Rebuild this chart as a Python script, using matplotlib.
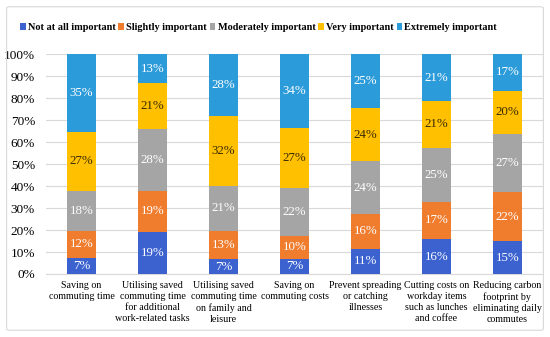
import matplotlib
matplotlib.use("Agg")
import matplotlib.pyplot as plt
from matplotlib.patches import FancyBboxPatch
import numpy as np

categories = [
    "Saving on\ncommuting time",
    "Utilising saved\ncommuting time\nfor additional\nwork-related tasks",
    "Utilising saved\ncommuting time\non family and\nleisure",
    "Saving on\ncommuting costs",
    "Prevent spreading\nor catching\nillnesses",
    "Cutting costs on\nworkday items\nsuch as lunches\nand coffee",
    "Reducing carbon\nfootprint by\neliminating daily\ncommutes",
]
series_names = ["Not at all important", "Slightly important", "Moderately important",
                "Very important", "Extremely important"]
not_at_all = [7.4, 19.3, 6.6, 7.0, 11.4, 15.8, 15.0]
slightly = [12.2, 18.6, 13.0, 10.4, 15.9, 17.1, 22.1]
moderately = [18.0, 28.1, 20.6, 21.6, 24.1, 24.6, 26.7]
very = [27.2, 20.8, 31.6, 27.3, 24.0, 21.2, 19.6]
extremely = [35.2, 13.2, 28.2, 33.7, 24.6, 21.3, 16.6]

colors = ["#3B62CF", "#F07C2E", "#A5A5A5", "#FFC000", "#2B9BD9"]
text_colors = ["white", "white", "white", "#3a2a00", "white"]

plt.rcParams['font.family'] = ['Liberation Serif', 'DejaVu Serif']

fig = plt.figure(figsize=(5.5, 3.37), dpi=100)
ax = fig.add_axes([0.084, 0.187, 0.903, 0.652])

x = np.arange(len(categories))
bottom = np.zeros(len(categories))
all_series = [not_at_all, slightly, moderately, very, extremely]
for vals, name, c, tc in zip(all_series, series_names, colors, text_colors):
    vals = np.array(vals)
    ax.bar(x, vals, 0.41, bottom=bottom, color=c, label=name, zorder=3)
    for xi, b, v in zip(x, bottom, vals):
        ax.text(xi, b + v / 2, f"{round(v):d}%", ha="center", va="center",
                color=tc, fontsize=9.3, zorder=4)
    bottom += vals

ax.set_xlim(-0.5, len(categories) - 0.5)
ax.set_ylim(0, 100)
ax.set_yticks(np.arange(0, 101, 10))
ax.set_yticklabels([f"{v}%" for v in range(0, 101, 10)], fontsize=9.5)
ax.yaxis.grid(True, color="#d9d9d9", linewidth=0.8, zorder=0)
ax.set_xticks(x)
ax.set_xticklabels(categories, fontsize=7.2, linespacing=1.28)
ax.tick_params(axis="both", length=0)
ax.tick_params(axis="x", pad=5)
ax.tick_params(axis="y", pad=8)
for s in ["top", "right", "left"]:
    ax.spines[s].set_visible(False)
ax.spines["bottom"].set_color("#d9d9d9")

leg = fig.legend(loc="center", bbox_to_anchor=(0.47, 0.918), ncol=5, frameon=False,
                 prop={"weight": "bold", "size": 7.4}, handlelength=0.55, handleheight=0.55,
                 handletextpad=0.2, columnspacing=0.3)

border = FancyBboxPatch((0.012, 0.02), 0.976, 0.96, boxstyle="round,pad=0,rounding_size=0.005",
                        transform=fig.transFigure, fill=False, edgecolor="#d9d9d9",
                        linewidth=0.8)
fig.patches.append(border)

fig.savefig("out.png", dpi=100)
